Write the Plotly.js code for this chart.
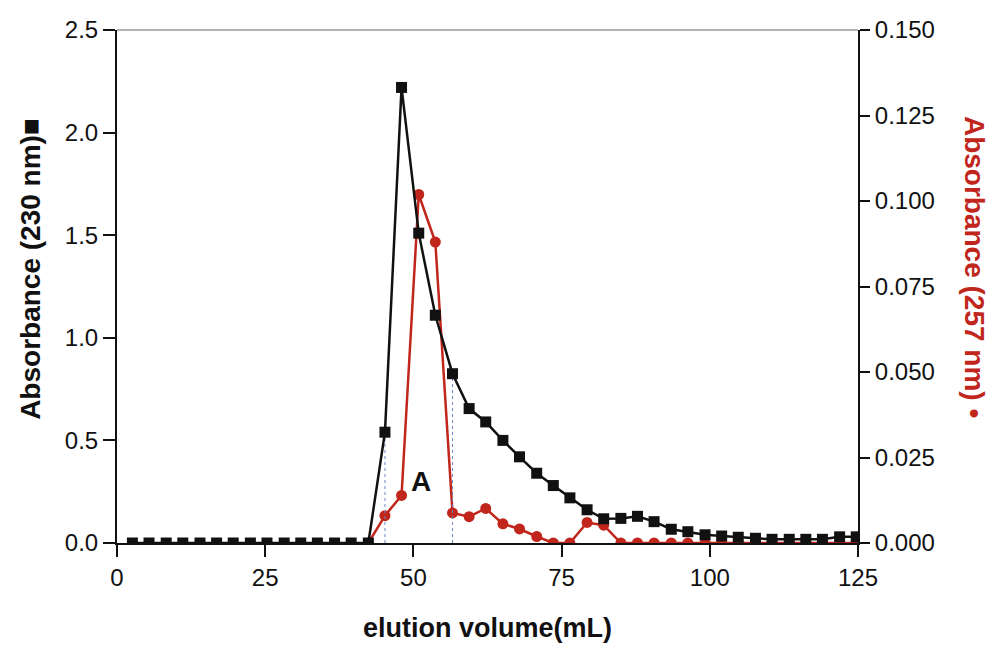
<!DOCTYPE html>
<html>
<head>
<meta charset="utf-8">
<script src="https://cdn.plot.ly/plotly-3.0.1.min.js"></script>
<style>html,body{margin:0;padding:0;background:#fff;}#chart{width:993px;height:651px;}</style>
</head>
<body>
<div id="chart"></div>
<script>
// Fraction elution volumes (mL)
var elutionVolume = [2.6, 5.4, 8.3, 11.1, 14.0, 16.8, 19.6, 22.5, 25.3, 28.2,
  31.0, 33.8, 36.7, 39.5, 42.4, 45.2, 48.0, 50.9, 53.7, 56.6,
  59.4, 62.2, 65.1, 67.9, 70.8, 73.6, 76.4, 79.3, 82.1, 85.0,
  87.8, 90.6, 93.5, 96.3, 99.2, 102.0, 104.8, 107.7, 110.5, 113.4,
  116.2, 119.0, 121.9, 124.7];

// Absorbance at 230 nm (left axis, squares)
var abs230 = [0, 0, 0, 0, 0, 0, 0, 0, 0, 0,
  0, 0, 0, 0, 0, 0.54, 2.22, 1.51, 1.11, 0.825,
  0.655, 0.59, 0.50, 0.42, 0.34, 0.28, 0.22, 0.162, 0.118, 0.12,
  0.13, 0.104, 0.067, 0.055, 0.04, 0.034, 0.028, 0.023, 0.018, 0.018,
  0.018, 0.018, 0.03, 0.03];

// Absorbance at 257 nm (right axis, circles) starting at fraction 42.4 mL
var volume257 = [42.4, 45.2, 48.0, 50.9, 53.7, 56.6, 59.4, 62.2, 65.1, 67.9,
  70.8, 73.6, 76.4, 79.3, 82.1, 85.0, 87.8, 90.6, 93.5, 96.3,
  99.2, 102.0, 104.8, 107.7, 110.5, 113.4, 116.2, 119.0, 121.9, 124.7];
var abs257 = [0, 0.008, 0.0139, 0.1019, 0.088, 0.0088, 0.0077, 0.0101, 0.0056, 0.0041,
  0.0019, 0, 0, 0.006, 0.0052, 0, 0, 0, 0, 0,
  0, 0, 0, 0, 0, 0, 0, 0, 0, 0];

// Fraction A boundaries (indices into elutionVolume / abs230)
var poolStartIdx = 15;
var poolEndIdx = 19;

var RED = '#c0261c';
var FONT = 'Liberation Sans, Arial, sans-serif';

var poolX = [elutionVolume[poolStartIdx], elutionVolume[poolStartIdx], null,
             elutionVolume[poolEndIdx], elutionVolume[poolEndIdx]];
var poolY = [0, abs230[poolStartIdx], null, 0, abs230[poolEndIdx]];

var traces = [
  {
    x: volume257, y: abs257, yaxis: 'y', xaxis: 'x',
    mode: 'lines+markers', type: 'scatter',
    line: {color: RED, width: 2.5},
    marker: {symbol: 'circle', size: 11, color: RED},
    hoverinfo: 'x+y', showlegend: false
  },
  {
    x: poolX, y: poolY, yaxis: 'y2', xaxis: 'x',
    mode: 'lines', type: 'scatter',
    line: {color: '#7186c8', width: 1, dash: 'dot'},
    hoverinfo: 'skip', showlegend: false
  },
  {
    x: elutionVolume, y: abs230, yaxis: 'y2', xaxis: 'x',
    mode: 'lines+markers', type: 'scatter',
    line: {color: '#111', width: 2.5},
    marker: {symbol: 'square', size: 11, color: '#111'},
    hoverinfo: 'x+y', showlegend: false
  }
];

var layout = {
  width: 993, height: 651,
  margin: {l: 117, r: 135, t: 30, b: 108},
  paper_bgcolor: '#fff', plot_bgcolor: '#fff',
  font: {family: FONT, size: 24, color: '#111'},
  showlegend: false,
  xaxis: {
    range: [0, 125], dtick: 25, tick0: 0,
    showgrid: false, zeroline: false,
    showline: true, linecolor: '#111', linewidth: 2,
    ticks: 'outside', ticklen: 12, tickwidth: 2, tickcolor: '#111',
    tickfont: {family: FONT, size: 24, color: '#111'},
    title: {text: '<b>elution volume(mL)</b>', font: {family: FONT, size: 27, color: '#111'}, standoff: 28},
    automargin: false
  },
  yaxis: {
    side: 'right',
    range: [0, 0.15], dtick: 0.025, tick0: 0, tickformat: '.3f',
    showgrid: false, zeroline: false,
    showline: true, linecolor: '#111', linewidth: 2,
    ticks: 'outside', ticklen: 10, tickwidth: 2, tickcolor: '#111',
    tickfont: {family: FONT, size: 24, color: '#111'},
    automargin: false
  },
  yaxis2: {
    side: 'left', overlaying: 'y',
    range: [0, 2.5], dtick: 0.5, tick0: 0, tickformat: '.1f',
    showgrid: false, zeroline: false,
    showline: true, linecolor: '#111', linewidth: 2,
    ticks: 'outside', ticklen: 12, tickwidth: 2, tickcolor: '#111',
    tickfont: {family: FONT, size: 24, color: '#111'},
    automargin: false
  },
  shapes: [
    {type: 'line', xref: 'paper', yref: 'paper', x0: 0, x1: 1, y0: 1, y1: 1,
     line: {color: '#9a9a9a', width: 1.5}}
  ],
  annotations: [
    {text: '<b>Absorbance (230 nm)■</b>', xref: 'paper', yref: 'paper',
     x: -0.117, y: 0.535, textangle: -90, showarrow: false,
     xanchor: 'center', yanchor: 'middle',
     font: {family: FONT, size: 28, color: '#111'}},
    {text: '<b>Absorbance (257 nm) •</b>', xref: 'paper', yref: 'paper',
     x: 1.158, y: 0.538, textangle: 90, showarrow: false,
     xanchor: 'center', yanchor: 'middle',
     font: {family: FONT, size: 28, color: RED}},
    {text: '<b>A</b>', xref: 'x', yref: 'y2', x: 51.3, y: 0.30,
     showarrow: false, xanchor: 'center', yanchor: 'middle',
     font: {family: FONT, size: 28, color: '#111'}}
  ]
};

Plotly.newPlot('chart', traces, layout, {displayModeBar: false, staticPlot: true});
</script>
</body>
</html>
